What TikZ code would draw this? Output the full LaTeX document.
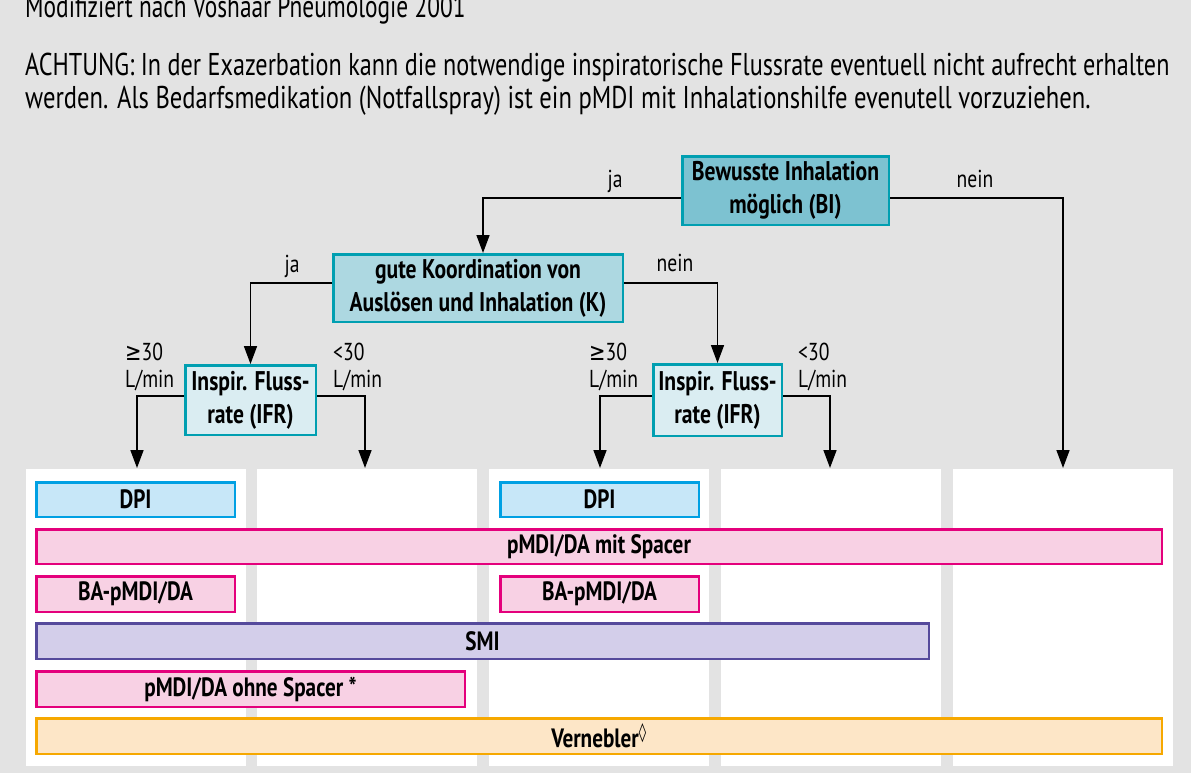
\documentclass[tikz,border=0pt]{standalone}
\usepackage{fontspec}
\setmainfont{PT Sans}[FakeStretch=0.8]
\newfontfamily\headfont{PT Sans}[FakeStretch=0.775]
\newfontfamily\symfont{DejaVu Sans}[FakeStretch=0.8]
\usetikzlibrary{arrows.meta}
\definecolor{bg}{HTML}{E3E3E3}
\definecolor{bifill}{HTML}{7DC2D1}
\definecolor{kfill}{HTML}{ADD8E1}
\definecolor{ifrfill}{HTML}{DAEDF2}
\definecolor{treeborder}{HTML}{009FB1}
\definecolor{dpifill}{HTML}{C7E7F8}
\definecolor{dpiborder}{HTML}{00A0E3}
\definecolor{pinkfill}{HTML}{F8D1E4}
\definecolor{pinkborder}{HTML}{E4007C}
\definecolor{smifill}{HTML}{D3CEEA}
\definecolor{smiborder}{HTML}{554A9C}
\definecolor{vernfill}{HTML}{FDE6C7}
\definecolor{vernborder}{HTML}{F6A800}
\tikzset{
  treebox/.style={draw=treeborder, line width=2.5pt, align=center, inner sep=0pt,
    font=\bfseries\fontsize{27}{33}\selectfont},
  bar/.style={line width=2.5pt, inner sep=0pt, font=\bfseries\fontsize{26.5}{28}\selectfont},
  lbl/.style={font=\fontsize{24.5}{27}\selectfont, inner sep=0pt},
  head/.style={font=\headfont\fontsize{31.5}{33}\selectfont, inner sep=0pt, anchor=base west},
  conn/.style={line width=1.6pt, -{Triangle[length=18pt,width=13pt]}}
}
\begin{document}
\begin{tikzpicture}[x=1pt,y=-1pt]
\useasboundingbox (0,0) rectangle (1191,773);
\fill[bg] (0,0) rectangle (1191,773);
% header
\node[head] (h0) at (25,18) {\scalebox{0.957}[1]{Modifiziert nach Voshaar Pneumologie 2001}};
\node[head] (h1) at (25,76) {\scalebox{0.991}[1]{ACHTUNG: In der Exazerbation kann die notwendige inspiratorische Flussrate eventuell nicht aufrecht erhalten}};
\node[head] (h2) at (25,109) {\scalebox{1.008}[1]{werden. Als Bedarfsmedikation (Notfallspray) ist ein pMDI mit Inhalationshilfe evenutell vorzuziehen.}};
% white columns
\foreach \xa/\xb in {26/246,257/477,489/709,721/941,953/1173}
  \fill[white] (\xa,469) rectangle (\xb,766);
% tree boxes
\node[treebox, fill=bifill, minimum width=206.5pt, minimum height=68.5pt] (BI) at (785.5,190.5) {Bewusste Inhalation\\möglich (BI)};
\node[treebox, fill=kfill, minimum width=289.5pt, minimum height=67.5pt] (K) at (478,288) {gute Koordination von\\Auslösen und Inhalation (K)};
\node[treebox, fill=ifrfill, minimum width=130.5pt, minimum height=69.5pt] (IFR1) at (250.5,400) {Inspir. Fluss-\\rate (IFR)};
\node[treebox, fill=ifrfill, minimum width=128.5pt, minimum height=71.5pt] (IFR2) at (717.5,400) {Inspir. Fluss-\\rate (IFR)};
% arrow end points
\coordinate (c1) at (137,468);
\coordinate (c2) at (365,468);
\coordinate (c3) at (600,468);
\coordinate (c4) at (830,468);
\coordinate (c5) at (1063,468);
% connectors
\draw[conn] ([yshift=-7.5pt]BI.west) -| ([xshift=5pt]K.north);
\draw[conn] ([yshift=-7.5pt]BI.east) -| (c5);
\draw[conn] ([yshift=5pt]K.west) -| (IFR1.north);
\draw[conn] ([yshift=5pt]K.east) -| (IFR2.north);
\draw[conn] ([yshift=4pt]IFR1.west) -| (c1);
\draw[conn] ([yshift=4pt]IFR1.east) -| (c2);
\draw[conn] ([yshift=4pt]IFR2.west) -| (c3);
\draw[conn] ([yshift=4pt]IFR2.east) -| (c4);
% labels
\node[lbl, anchor=base] (l1) at (615,187) {ja};
\node[lbl, anchor=base] (l2) at (975,187) {nein};
\node[lbl, anchor=base] (l3) at (292,272) {ja};
\node[lbl, anchor=base] (l4) at (675,271) {nein};
\node[lbl, anchor=base west] (l5) at (125,360) {{\symfont ≥}30};
\node[lbl, anchor=base west] (l6) at (125,387) {L/min};
\node[lbl, anchor=base west] (l7) at (333,360) {<30};
\node[lbl, anchor=base west] (l8) at (333,387) {L/min};
\node[lbl, anchor=base west] (l9) at (589,360) {{\symfont ≥}30};
\node[lbl, anchor=base west] (l10) at (589,387) {L/min};
\node[lbl, anchor=base west] (l11) at (798,360) {<30};
\node[lbl, anchor=base west] (l12) at (798,387) {L/min};
% bars
\node[bar, draw=dpiborder, fill=dpifill, minimum width=198.5pt, minimum height=34.5pt] (dpi1) at (135.5,499.5) {DPI};
\node[bar, draw=dpiborder, fill=dpifill, minimum width=198.5pt, minimum height=34.5pt] (dpi2) at (599.5,499.5) {DPI};
\node[bar, draw=pinkborder, fill=pinkfill, minimum width=1125.5pt, minimum height=34.5pt] (spacer) at (599,546.5) {pMDI/DA mit Spacer};
\node[bar, draw=pinkborder, fill=pinkfill, minimum width=198.5pt, minimum height=35.5pt] (ba1) at (135.5,594) {BA-pMDI/DA};
\node[bar, draw=pinkborder, fill=pinkfill, minimum width=198.5pt, minimum height=35.5pt] (ba2) at (599.5,594) {BA-pMDI/DA};
\node[bar, draw=smiborder, fill=smifill, minimum width=892.5pt, minimum height=35.5pt] (smi) at (482.5,641) {SMI};
\node[bar, draw=pinkborder, fill=pinkfill, minimum width=428.5pt, minimum height=35.5pt] (ohne) at (250.5,689) {pMDI/DA ohne Spacer *};
\node[bar, draw=vernborder, fill=vernfill, minimum width=1125.5pt, minimum height=35.5pt] (vern) at (599,736) {Vernebler\textsuperscript{\symfont ◊}};
\end{tikzpicture}
\end{document}
